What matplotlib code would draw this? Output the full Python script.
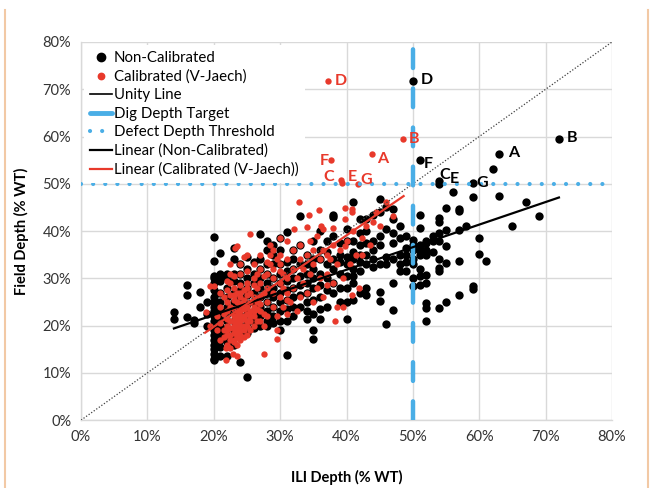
import matplotlib
matplotlib.use("Agg")
import matplotlib.pyplot as plt
from matplotlib.lines import Line2D
import numpy as np

plt.rcParams['font.family'] = ['Lato', 'DejaVu Sans']

# ---------------- data ----------------
# Non-Calibrated: ILI depth (%), field depth (%)
nc_ili = (
    [14]*2 + [16]*3 + [17]*2 + [18]*2 + [19]*3 + [20]*21 + [21]*13 + [22]*11 + [23]*11 +
    [24]*10 + [25]*10 + [26]*8 + [27]*9 + [28]*10 + [29]*9 + [30]*10 + [31]*9 + [32]*8 +
    [33]*7 + [34]*8 + [35]*9 + [36]*8 + [37]*6 + [38]*7 + [39]*6 + [40]*8 + [41]*8 +
    [42]*7 + [43]*7 + [44]*5 + [45]*7 + [46]*5 + [47]*7 + [48]*5 + [49]*5 + [50]*8 +
    [51]*9 + [52]*9 + [53]*3 + [54]*10 + [55]*5 + [56]*1 + [57]*5 + [58]*1 + [59]*4 +
    [60]*2 + [61]*1 + [62]*1 + [63]*2 + [65]*1 + [67]*1 + [69]*1 + [72]*1
)
nc_field = [
    22.9, 21.4,
    28.6, 26.5, 21.9,
    21.2, 20.5,
    27.2, 24.0,
    20.0, 22.5, 25.0,
    38.7, 33.6, 30.5, 30.0, 29.0, 27.5, 26.0, 25.0, 24.0, 23.0, 22.0, 21.0, 20.0, 19.0, 18.0, 17.0, 16.0, 15.0, 14.0, 13.0, 12.7,
    35.3, 31.0, 30.5, 29.5, 27.0, 25.0, 23.0, 21.5, 20.0, 18.5, 17.0, 15.5, 13.5,
    31.0, 30.0, 28.0, 26.0, 24.0, 22.5, 21.0, 19.5, 18.0, 16.5, 13.5,
    36.5, 34.0, 31.0, 29.5, 27.0, 25.0, 23.0, 21.0, 19.0, 17.5, 16.0,
    33.0, 31.0, 29.0, 27.5, 26.0, 24.0, 22.0, 20.0, 18.0, 12.4,
    34.5, 32.0, 30.0, 28.0, 26.5, 24.5, 22.5, 20.5, 18.5, 9.2,
    33.5, 31.0, 29.0, 27.0, 25.0, 23.0, 21.0, 19.5,
    39.4, 34.0, 32.0, 30.0, 28.0, 26.0, 24.0, 22.0, 20.0,
    38.0, 36.0, 33.0, 31.0, 29.0, 27.0, 25.0, 23.0, 21.0, 20.0,
    37.0, 35.0, 33.0, 30.0, 28.0, 26.0, 24.0, 22.0, 20.5,
    38.5, 36.0, 33.0, 31.0, 29.0, 27.0, 25.0, 23.0, 21.0, 19.0,
    39.8, 33.5, 31.5, 29.5, 27.5, 25.5, 23.5, 21.0, 13.8,
    36.0, 34.0, 32.0, 30.0, 28.0, 26.0, 24.0, 22.0,
    43.2, 37.0, 33.0, 30.5, 28.5, 26.5, 24.0,
    35.0, 33.0, 31.0, 29.0, 27.0, 25.0, 23.0, 21.5,
    38.0, 34.0, 32.0, 30.0, 28.0, 25.5, 22.5, 19.0, 17.1,
    40.0, 36.0, 34.0, 31.0, 28.5, 26.0, 23.5, 21.3,
    38.0, 35.5, 33.0, 30.0, 27.5, 24.0,
    43.5, 42.9, 39.0, 34.0, 32.0, 29.0, 27.0,
    37.5, 35.0, 33.5, 31.0, 28.0, 25.0,
    40.4, 38.0, 34.5, 33.0, 30.5, 28.0, 25.0, 21.3,
    46.1, 38.0, 35.5, 34.0, 32.0, 30.5, 29.0, 25.5,
    42.5, 39.5, 37.0, 35.0, 33.5, 31.5, 27.0,
    42.5, 40.0, 37.5, 35.0, 33.0, 28.0, 26.5,
    43.5, 38.0, 36.0, 34.0, 32.5,
    46.8, 44.0, 39.0, 37.0, 33.0, 27.1, 25.3,
    45.0, 40.5, 34.5, 33.0, 20.4,
    44.6, 42.5, 39.5, 37.5, 34.0, 29.0, 23.4,
    41.1, 38.5, 35.0, 33.0, 31.5,
    39.0, 36.5, 35.0, 33.5, 31.5,
    71.8, 38.2, 37.0, 36.0, 34.0, 33.0, 30.0, 28.4,
    55.0, 43.5, 40.7, 37.0, 36.0, 35.0, 32.0, 30.5, 28.5,
    38.0, 37.5, 36.0, 35.0, 30.8, 29.1, 24.8, 23.8, 21.0,
    39.0, 38.0, 35.5,
    50.6, 50.0, 42.8, 41.9, 39.5, 38.0, 34.0, 32.2, 31.5, 23.8,
    44.9, 40.2, 36.8, 33.2, 25.0,
    48.3,
    44.7, 44.2, 40.2, 33.6, 26.5,
    41.1,
    50.1, 47.3, 28.4, 27.8,
    38.6, 35.1,
    33.6,
    53.1,
    56.4, 47.4,
    41.1,
    46.1,
    43.2,
    59.5,
]

# Calibrated (V-Jaech): ILI depth (%), field depth (%)
cal_ili = [
    20.5, 21, 21, 21.5, 21.5, 21.5, 22, 22, 22, 22, 22, 22, 22.5, 22.5, 22.5, 22.5, 22.5, 22.5,
    23, 23, 23, 23, 23, 23, 23, 23, 23.5, 23.5, 23.5, 23.5, 23.5, 23.5,
    24, 24, 24, 24, 24, 24, 24, 24.5, 24.5, 24.5, 24.5, 24.5,
    25, 25, 25, 25, 25, 25.5, 25.5, 25.5, 25.5, 26, 26, 26, 26, 26.5, 26.5, 27, 27, 27,
    22, 22.5, 21.9, 22.9, 23.5, 21.9, 23.2, 23.5, 24.5, 25.5, 24, 22.5, 25, 20, 19.4, 18.8, 19.5, 20.5, 21,
    27.6, 29.6, 29.5, 27.5, 28, 28, 28, 28, 28.5, 28.5, 29, 29, 29, 29, 29.5,
    30, 30, 30, 30, 30.5, 30.5, 31, 31, 31, 31, 31, 31.5, 32, 32, 32, 32.1, 32.5, 32.5, 32.8,
    33, 33, 33, 33.5, 33.5, 34, 34, 34.1, 34.3, 34.5, 34.5, 35, 35, 35, 35.5, 35.5, 35.8,
    36, 36, 36.1, 36.5, 36.5, 36.5, 37, 37, 37, 37.5, 37.9, 38, 38, 38.3, 38.5, 38.5,
    39, 39.4, 39.5, 39.75, 39.8, 39.8, 40, 40.5, 40.8, 40.8, 40.9, 41, 41.5, 41.9, 42.3, 42.4,
    43, 43.5, 44, 45, 46, 47, 44.5,
    21.5, 22, 22.5, 23, 23, 23, 23.5, 23.5, 23.5, 23.5, 24, 24, 24, 24, 24.5, 24.5, 24.5,
    25, 25, 25.5, 25.5, 26, 26, 26.5, 26.5, 27, 27, 27.5, 23, 24, 25, 26, 27, 27.5, 28,
    29, 29.5, 30, 30.5, 31, 26, 27, 28.5, 30, 25, 22, 21, 22.5, 26.5, 27.5,
    37.2, 48.5, 43.8, 37.7, 39.2, 39.3, 41.8,
]
cal_field = [
    22, 20.5, 24, 19, 22.5, 26, 18, 20, 21.5, 23, 25, 27.5, 17, 19.5, 21, 24, 26.5, 29,
    16.5, 18.5, 20, 22, 23.5, 25.5, 28, 30.5, 17.5, 19, 21, 23, 25, 27,
    18, 20, 22, 24.5, 26, 28.5, 31, 19, 21.5, 23.5, 25.5, 27.5,
    20, 22.5, 24, 26.5, 29, 21, 23, 25, 27, 22, 24, 26, 30, 25, 28, 23, 26, 32,
    16, 15.3, 12.8, 13.9, 13.5, 15.3, 36.5, 36.8, 34.5, 39.4, 33, 31, 35, 28.4, 28.4, 22.9, 20, 19, 17,
    13.9, 17.1, 19, 20, 22, 25, 28, 31, 33, 35, 24, 27, 30, 36, 22,
    26, 29, 33, 35, 24, 31, 22.5, 27, 30, 34, 38, 25, 28, 32, 36, 40.4, 23, 30, 46.1,
    26, 34, 37, 29, 32, 27, 35, 40.8, 43.5, 31, 38, 25, 33, 36, 28, 39, 44.4,
    30, 34, 41.1, 26, 36, 40.5, 31, 35, 28.5, 34, 40.7, 29, 37, 21.0, 24, 33,
    36, 24, 30, 36.8, 42.5, 44.9, 38, 33, 44.6, 44.0, 26.5, 40, 35, 27.9, 34.9, 38.6,
    41, 37, 42, 41.1, 46.1, 43.2, 44,
    17.5, 19, 18, 17, 19.5, 21, 16, 18, 20, 22, 17, 19, 21, 23, 17.5, 20, 22,
    18, 21, 19, 22, 20, 23, 21, 23.5, 21, 24.5, 22.5, 26.5, 27, 28, 28.5, 29, 30.5, 33.5,
    32, 34, 31.5, 28, 25.5, 33, 35, 37, 38.5, 31.5, 29.5, 27, 33, 31, 27,
    71.8, 59.5, 56.4, 55.0, 50.7, 50.2, 50.0,
]

# labelled points: (ILI, field, letter)
nc_labels = [(50, 71.8, 'D'), (72, 59.5, 'B'), (63, 56.4, 'A'), (51, 55.0, 'F'),
             (54, 50.6, 'C'), (56, 48.3, 'E'), (59, 50.1, 'G')]
cal_labels = [(37.2, 71.8, 'D'), (48.5, 59.5, 'B'), (43.8, 56.4, 'A'), (37.7, 55.0, 'F'),
              (39.2, 50.7, 'C'), (39.3, 50.2, 'E'), (41.8, 50.0, 'G')]

# trend line endpoints (ILI, field)
nc_trend_x = [14, 72]
nc_trend_y = [19.4, 47.1]
cal_trend_x = [18.7, 48.6]
cal_trend_y = [18.5, 47.4]

unity = [0, 80]
dig_target = 50
defect_threshold = 50

ticks = [0, 10, 20, 30, 40, 50, 60, 70, 80]
tick_labels = [f"{t}%" for t in ticks]

# ---------------- plotting ----------------
BLUE = '#4aaee6'
RED = '#e8392b'

fig = plt.figure(figsize=(6.5, 4.88), dpi=100)
ax = fig.add_axes([0.1246, 0.139, 0.817, 0.775])

ax.set_xlim(0, 80)
ax.set_ylim(0, 80)
ax.set_xticks(ticks)
ax.set_yticks(ticks)
ax.set_xticklabels(tick_labels)
ax.set_yticklabels(tick_labels)
ax.grid(True, color='#d9d9d9', linewidth=1.0, zorder=0)
ax.set_axisbelow(True)
for side in ['top', 'right']:
    ax.spines[side].set_visible(False)
for side in ['left', 'bottom']:
    ax.spines[side].set_color('#d9d9d9')
    ax.spines[side].set_linewidth(1.0)
ax.tick_params(length=0, labelsize=10.5, colors='#333333', pad=7)

ax.scatter(nc_ili, nc_field, s=36, color='black', linewidths=0, zorder=3)
ax.scatter(cal_ili, cal_field, s=21, color=RED, linewidths=0, zorder=4)
ax.plot(unity, unity, linestyle=(0, (1, 1.5)), color='#404040', linewidth=0.9, zorder=5)
ax.plot([dig_target, dig_target], [0, 80], color=BLUE, linewidth=3.2,
        linestyle=(0, (4.2, 4.6)), dash_capstyle='round', zorder=6)
ax.plot([0, 80], [defect_threshold, defect_threshold], color=BLUE, linewidth=3.0,
        linestyle=(0, (0.01, 2.9)), dash_capstyle='round', zorder=6)
ax.plot(nc_trend_x, nc_trend_y, color='black', linewidth=1.6, zorder=7)
ax.plot(cal_trend_x, cal_trend_y, color=RED, linewidth=1.6, zorder=7)

nc_off = {'D': (14, 1), 'B': (13, 1), 'A': (14, 1), 'F': (9, -4), 'C': (5, 6), 'E': (2, 13), 'G': (10, 0)}
cal_off = {'D': (13, 0), 'B': (11, 0), 'A': (11, -5), 'F': (-7, -1), 'C': (-13, 3), 'E': (10, 6), 'G': (8, 4)}
for x, y, t in nc_labels:
    ax.annotate(t, (x, y), xytext=nc_off[t], textcoords='offset pixels', ha='center', va='center',
                fontsize=11.5, fontweight='bold', color='black', zorder=8)
for x, y, t in cal_labels:
    ax.annotate(t, (x, y), xytext=cal_off[t], textcoords='offset pixels', ha='center', va='center',
                fontsize=11.5, fontweight='bold', color=RED, zorder=8)

ax.set_xlabel('ILI Depth (% WT)', fontsize=10.5, fontweight='bold', labelpad=19)
ax.set_ylabel('Field Depth (% WT)', fontsize=10.5, fontweight='bold', labelpad=10)

handles = [
    Line2D([], [], linestyle='none', marker='o', markersize=6, color='black'),
    Line2D([], [], linestyle='none', marker='o', markersize=4.6, color=RED),
    Line2D([], [], color='black', linewidth=1.2),
    Line2D([], [], color=BLUE, linewidth=3.5, solid_capstyle='round'),
    Line2D([], [], color=BLUE, linewidth=3.0, linestyle=(0, (0.01, 2.9)), dash_capstyle='round'),
    Line2D([], [], color='black', linewidth=1.6),
    Line2D([], [], color=RED, linewidth=1.6),
]
labels = ['Non-Calibrated', 'Calibrated (V-Jaech)', 'Unity Line', 'Dig Depth Target',
          'Defect Depth Threshold', 'Linear (Non-Calibrated)', 'Linear (Calibrated (V-Jaech))']
leg = ax.legend(handles, labels, loc='upper left', bbox_to_anchor=(0.0, 1.0), fontsize=10.8,
                frameon=True, framealpha=1.0, edgecolor='none', facecolor='white', handlelength=1.5,
                handletextpad=0.1, labelspacing=0.3, borderpad=0.4, borderaxespad=0.2)
leg.set_zorder(9)

# thin peach border lines at the left and right edges
fig.add_artist(Line2D([0.008, 0.008], [0.0, 0.98], color='#f2c9a5', linewidth=1.5, transform=fig.transFigure))
fig.add_artist(Line2D([0.997, 0.997], [0.0, 0.98], color='#f2c9a5', linewidth=1.5, transform=fig.transFigure))

fig.savefig('out.png', dpi=100)
